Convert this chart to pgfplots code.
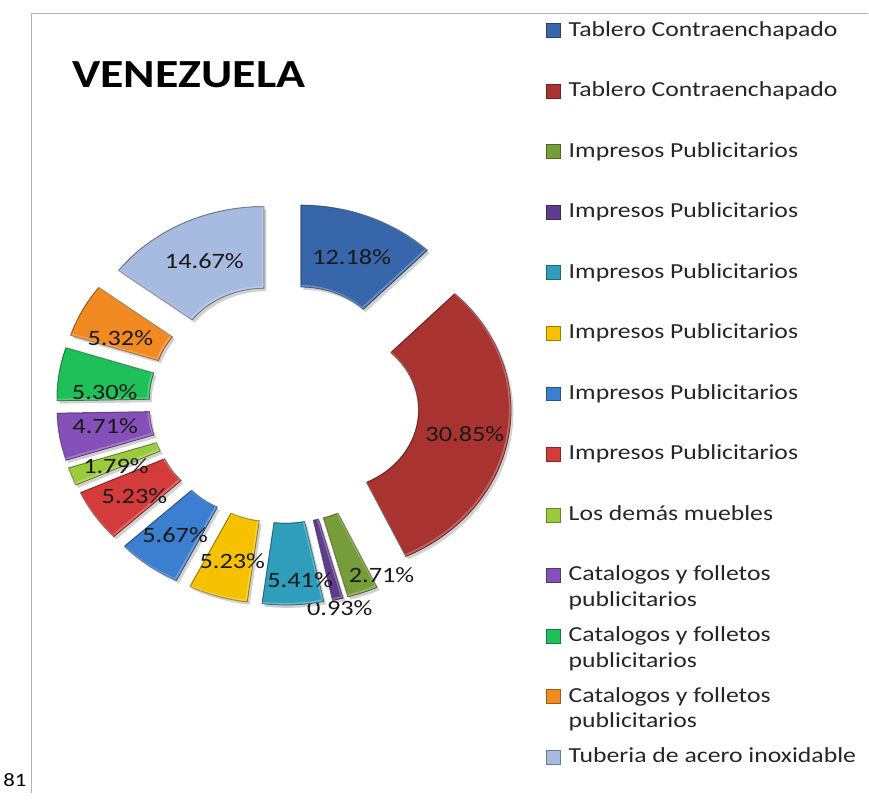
\documentclass[border=0pt]{standalone}
\usepackage{fontspec}
\setmainfont{Carlito}[FakeStretch=1.2]
\usepackage{pgfplots}
\usepackage{pgfplotstable}
\pgfplotsset{compat=1.18}

% slice colours, in the order of the data
\definecolor{sc0}{HTML}{3767AA}
\definecolor{sc1}{HTML}{A93330}
\definecolor{sc2}{HTML}{779C3A}
\definecolor{sc3}{HTML}{5F3D8C}
\definecolor{sc4}{HTML}{2E9EBB}
\definecolor{sc5}{HTML}{F6C200}
\definecolor{sc6}{HTML}{3C7ED0}
\definecolor{sc7}{HTML}{D43B3B}
\definecolor{sc8}{HTML}{9BCB3C}
\definecolor{sc9}{HTML}{8550B8}
\definecolor{sc10}{HTML}{1FBF5A}
\definecolor{sc11}{HTML}{F28A22}
\definecolor{sc12}{HTML}{A6BBDF}

% share in %, label nudge (dx, dy)
\pgfplotstableread{
value dx dy
12.18 0 2
30.85 2 4
2.71 35 21
0.93 13 49
5.41 9 16
5.23 1 4
5.67 -1 3
5.23 1 3
1.79 1 4
4.71 0 -4
5.30 0 12
5.32 -3 9
14.67 1 1
}\slicedata

\pgfplotstablegetrowsof{\slicedata}
\pgfmathtruncatemacro\lastrow{\pgfplotsretval-1}

% ring geometry (picture units)
\def\cx{282}\def\cy{405}\def\sx{1.13}
\def\ri{80}\def\ro{162}\def\dd{40}

\begin{document}
\begin{tikzpicture}
\begin{axis}[
    width=869pt, height=796pt, scale only axis,
    xmin=0, xmax=869, ymin=0, ymax=796, y dir=reverse,
    hide axis, clip=false,
    legend image code/.code={\draw[#1, line width=0.5pt] (0pt,14pt) rectangle (14pt,28pt);},
    legend style={draw=none, fill=none, at={(axis cs:545,21)}, anchor=north west,
        inner sep=0pt, row sep=0pt, legend cell align=left,
        font=\fontsize{21.5}{26}\selectfont, text=black!85,
        nodes={inner sep=0pt, text height=15pt, text depth=45.75pt},
        /tikz/every odd column/.append style={column sep=8pt}},
]
\path (axis cs:0,0) rectangle (axis cs:869,796);
\draw[gray!60, line width=1.2pt] (axis cs:29,796) -- (axis cs:29,13.5) -- (axis cs:868.4,13.5);
\node[anchor=base east, font=\fontsize{19}{22}\selectfont] at (axis cs:27,789) {81};
\node[anchor=base west, font=\fontsize{40}{48}\selectfont\bfseries] at (axis cs:66,88) {VENEZUELA};

\def\cum{0}
\pgfplotsforeachungrouped \i in {0,...,\lastrow}{
  \pgfplotstablegetelem{\i}{value}\of\slicedata \let\val\pgfplotsretval
  \pgfplotstablegetelem{\i}{dx}\of\slicedata \let\ldx\pgfplotsretval
  \pgfplotstablegetelem{\i}{dy}\of\slicedata \let\ldy\pgfplotsretval
  \pgfmathsetmacro\aA{90-3.6*\cum}
  \pgfmathsetmacro\aB{90-3.6*(\cum+\val)}
  \pgfmathsetmacro\aM{(\aA+\aB)/2}
  \pgfmathsetmacro\ox{\cx+\sx*\dd*cos(\aM)}
  \pgfmathsetmacro\oy{\cy-\dd*sin(\aM)}
  \pgfmathsetmacro\pxA{\ox+\sx*\ro*cos(\aA)}
  \pgfmathsetmacro\pyA{\oy-\ro*sin(\aA)}
  \pgfmathsetmacro\qxB{\ox+\sx*\ri*cos(\aB)}
  \pgfmathsetmacro\qyB{\oy-\ri*sin(\aB)}
  \pgfmathsetmacro\lx{\ox+\sx*(\ri+\ro)/2*cos(\aM)+\ldx}
  \pgfmathsetmacro\ly{\oy-(\ri+\ro)/2*sin(\aM)+\ldy}
  \pgfmathsetmacro\rxo{\sx*\ro}
  \pgfmathsetmacro\rxi{\sx*\ri}
  \edef\slicepath{(axis cs:\pxA,\pyA) arc[start angle=\aA, end angle=\aB, x radius=\rxo pt, y radius=\ro pt]
      -- (axis cs:\qxB,\qyB) arc[start angle=\aB, end angle=\aA, x radius=\rxi pt, y radius=\ri pt]
      -- cycle}
  \edef\temp{%
    \noexpand\fill[black, opacity=0.18, xshift=2.5pt, yshift=-3pt] \slicepath;
    \noexpand\fill[sc\i, draw=sc\i!60!black, line width=1pt, line join=round] \slicepath;
    \noexpand\draw[white, opacity=0.25, line width=2pt, line join=round, xshift=-1pt, yshift=1pt] \slicepath;
    \noexpand\node[font=\noexpand\fontsize{22}{26}\noexpand\selectfont, text=black!90]
      at (axis cs:\lx,\ly) {\val\noexpand\%};}
  \temp
  \pgfmathsetmacro\cum{\cum+\val}
}

\addlegendimage{fill=sc0, draw=sc0!65!black}\addlegendentry{Tablero Contraenchapado}
\addlegendimage{fill=sc1, draw=sc1!65!black}\addlegendentry{Tablero Contraenchapado}
\addlegendimage{fill=sc2, draw=sc2!65!black}\addlegendentry{Impresos Publicitarios}
\addlegendimage{fill=sc3, draw=sc3!65!black}\addlegendentry{Impresos Publicitarios}
\addlegendimage{fill=sc4, draw=sc4!65!black}\addlegendentry{Impresos Publicitarios}
\addlegendimage{fill=sc5, draw=sc5!65!black}\addlegendentry{Impresos Publicitarios}
\addlegendimage{fill=sc6, draw=sc6!65!black}\addlegendentry{Impresos Publicitarios}
\addlegendimage{fill=sc7, draw=sc7!65!black}\addlegendentry{Impresos Publicitarios}
\addlegendimage{fill=sc8, draw=sc8!65!black}\addlegendentry{Los demás muebles}
\addlegendimage{fill=sc9, draw=sc9!65!black}\addlegendentry{\parbox[t]{8cm}{Catalogos y folletos\\publicitarios}}
\addlegendimage{fill=sc10, draw=sc10!65!black}\addlegendentry{\parbox[t]{8cm}{Catalogos y folletos\\publicitarios}}
\addlegendimage{fill=sc11, draw=sc11!65!black}\addlegendentry{\parbox[t]{8cm}{Catalogos y folletos\\publicitarios}}
\addlegendimage{fill=sc12, draw=sc12!65!black}\addlegendentry{Tuberia de acero inoxidable}
\end{axis}
\end{tikzpicture}
\end{document}
